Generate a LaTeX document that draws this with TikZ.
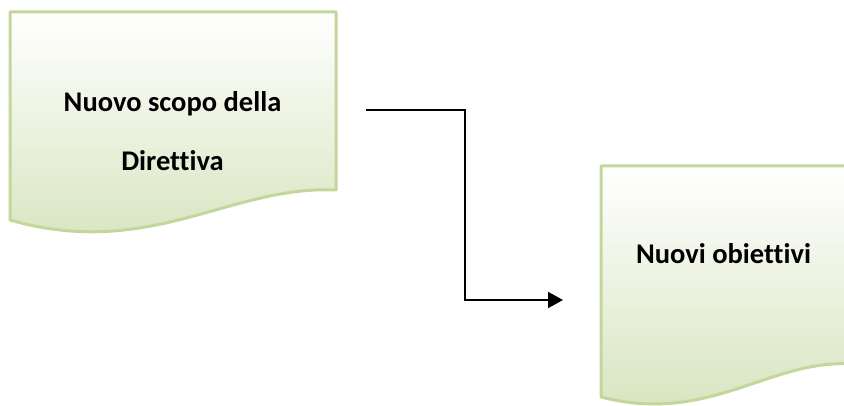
\documentclass[tikz,border=0pt]{standalone}
\usepackage{fontspec}
\setmainfont[Ligatures=NoCommon]{Carlito}
\usetikzlibrary{arrows.meta}
\definecolor{docline}{HTML}{C3D69B}
\definecolor{docbot}{HTML}{D6E3BC}
\begin{document}
\begin{tikzpicture}[x=1pt,y=-1pt,
  doc/.style={draw=docline,line width=3pt,top color=white,bottom color=docbot,line join=round},
  lbl/.style={font=\fontsize{28.5}{59}\selectfont\bfseries,align=center,inner sep=0pt},
  conn/.style={line width=2pt,-{Triangle[length=15pt,width=16pt]}}]
\useasboundingbox (0,0) rectangle (844,406);
\clip (0,0) rectangle (844,406);
% left document
\path[doc] (10,12) -- (336,12) -- (336,190)
  .. controls (230,185) and (150,260) .. (10,220) -- cycle;
% right document
\path[doc] (601,166) -- (851,166) -- (851,364)
  .. controls (770,359) and (709,425) .. (601,397) -- cycle;
\node[lbl] (t1) at (172.5,131) {Nuovo scopo della\\Direttiva};
\node[lbl] (t2) at (723.5,254) {Nuovi obiettivi};
\coordinate (s) at (366,110);
\coordinate (k) at (465,300);
\coordinate (e) at (563,300);
\draw[conn] (s) -| (k) -- (e);
\end{tikzpicture}
\end{document}
